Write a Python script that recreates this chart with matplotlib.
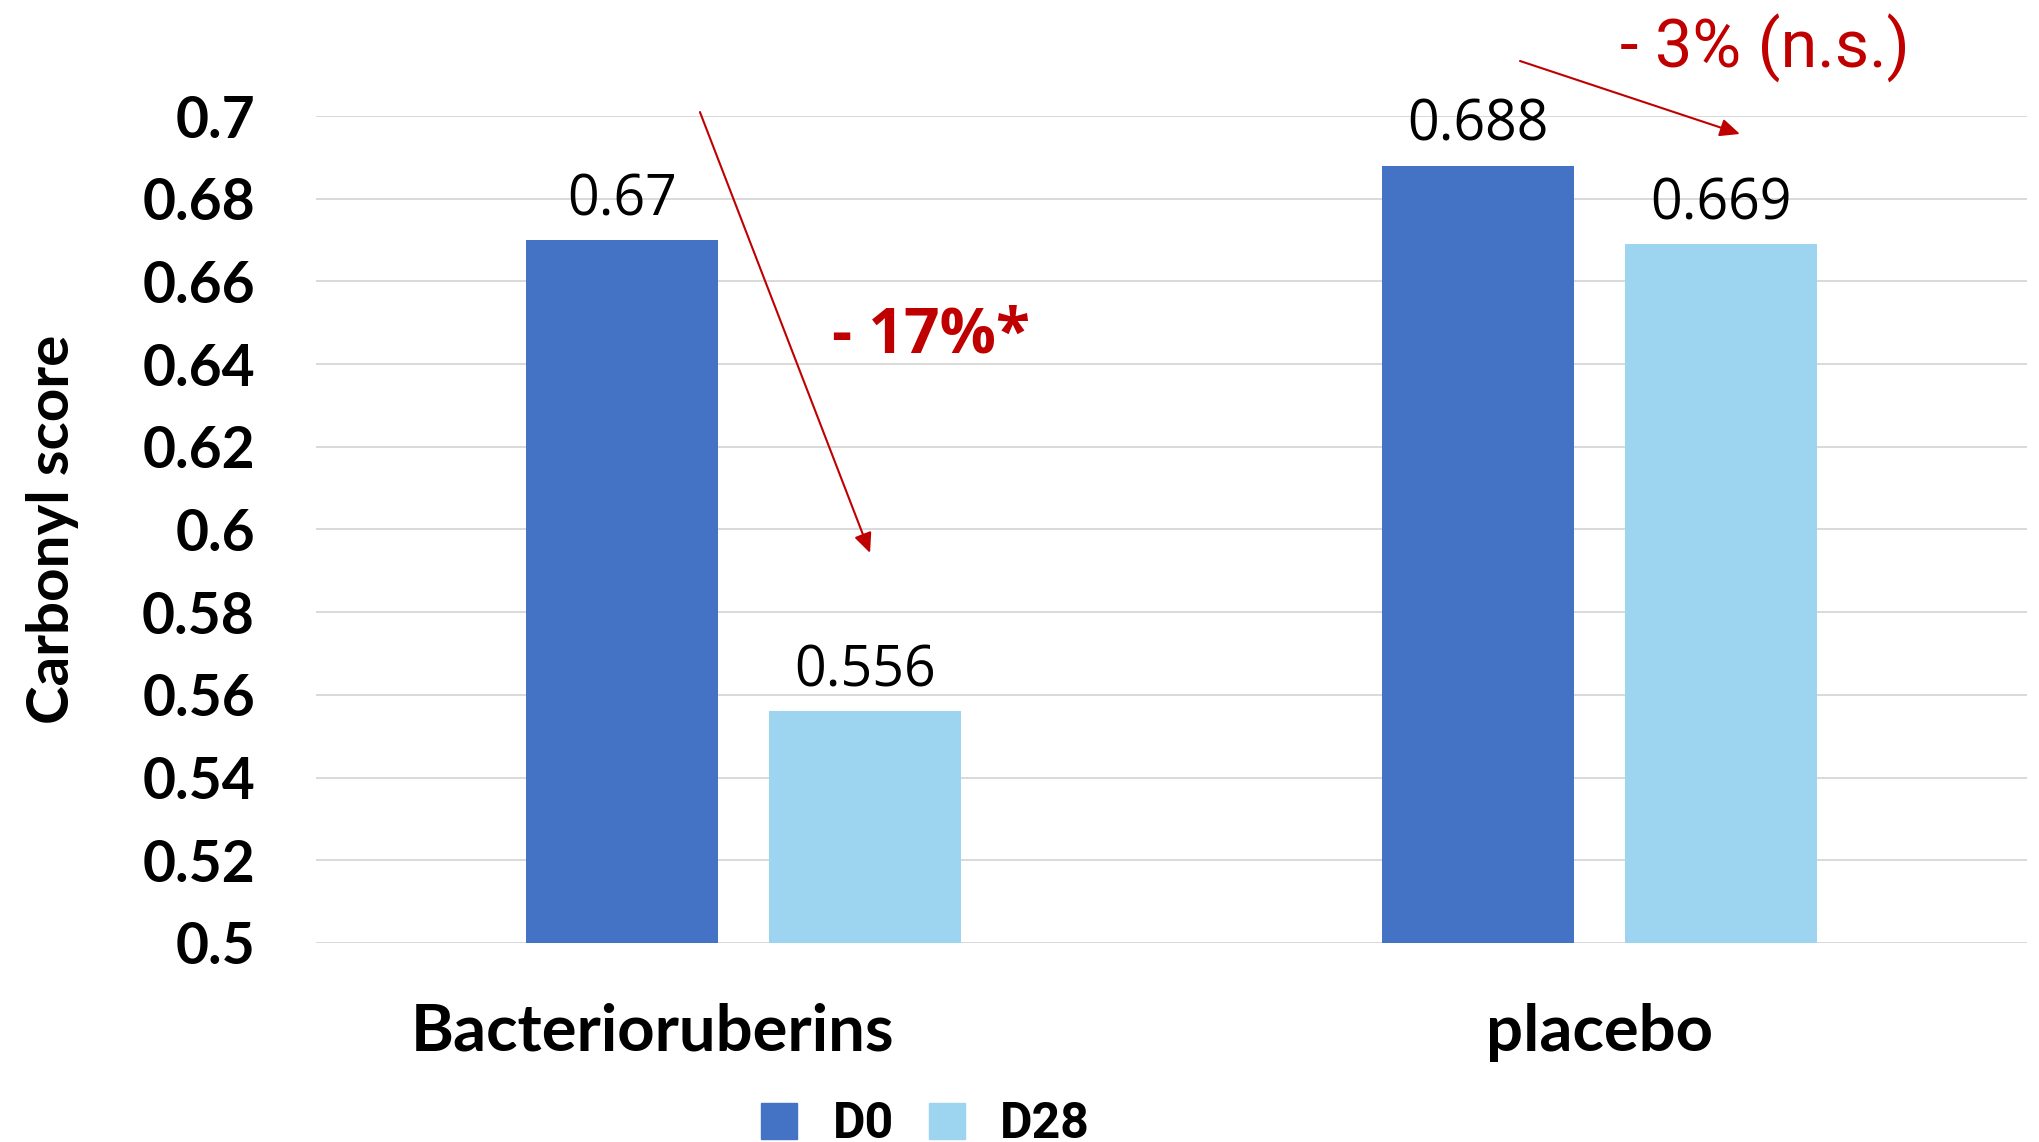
import numpy as np
import matplotlib
matplotlib.use("Agg")
import matplotlib.pyplot as plt
from matplotlib.patches import Patch

# carbonyl score per group, day 0 vs day 28
groups = ["Bacterioruberins", "placebo"]
series_names = ["D0", "D28"]
d0_values = [0.67, 0.688]
d28_values = [0.556, 0.669]
y_ticks = [0.5, 0.52, 0.54, 0.56, 0.58, 0.6, 0.62, 0.64, 0.66, 0.68, 0.7]
change_labels = ["- 17%*", "- 3% (n.s.)"]

dark_blue = "#4472C4"
light_blue = "#9DD5F1"
red = "#C00000"

fig = plt.figure(figsize=(20.4, 11.42), dpi=100)
ax = fig.add_axes([0.1549, 0.1743, 0.8387, 0.7241])

x = np.arange(len(groups))
width = 0.2245
offset = 0.142

bars_d0 = ax.bar(x - offset, d0_values, width, color=dark_blue, zorder=3)
bars_d28 = ax.bar(x + offset, d28_values, width, color=light_blue, zorder=3)

# value labels above each bar
for bars, vals in [(bars_d0, d0_values), (bars_d28, d28_values)]:
    for b, v in zip(bars, vals):
        ax.annotate(f"{v:g}", (b.get_x() + b.get_width() / 2, v),
                    xytext=(0, 18), textcoords="offset points",
                    ha="center", va="baseline", fontsize=40,
                    family="Open Sans", color="black")

ax.set_xlim(-0.5, 1.5)
ax.set_ylim(0.5, 0.7)
ax.set_yticks(y_ticks)
ax.set_yticklabels([f"{t:g}" for t in y_ticks], fontsize=41,
                   fontweight="bold", family="Lato")
ax.tick_params(axis="y", length=0, pad=44)
ax.set_xticks([])
ax.grid(axis="y", color="#D9D9D9", linewidth=1.4)
ax.set_axisbelow(True)
for s in ax.spines.values():
    s.set_visible(False)

ax.set_ylabel("Carbonyl score", fontsize=42, fontweight="bold",
              family="Lato", va="center")
ax.yaxis.set_label_coords(-0.154, 0.5)

# group names under the axis
label_shift = [-0.107, 0.0]
trans = matplotlib.transforms.blended_transform_factory(ax.transData, ax.transAxes)
for xi, name, sh in zip(x, groups, label_shift):
    ax.text(xi + sh, -0.1306, name, transform=trans, ha="center",
            va="baseline", fontsize=47, fontweight="bold", family="Lato")

# change arrows and percentages
ax.annotate("", xy=(0.4265, 0.5158), xytext=(0.3431, 0.9019),
            xycoords="figure fraction", textcoords="figure fraction",
            arrowprops=dict(arrowstyle="-|>,head_length=1.0,head_width=0.45",
                            mutation_scale=12, lw=1.5, color=red,
                            shrinkA=0, shrinkB=0))
ax.annotate("", xy=(0.8529, 0.8827), xytext=(0.7451, 0.9466),
            xycoords="figure fraction", textcoords="figure fraction",
            arrowprops=dict(arrowstyle="-|>,head_length=1.0,head_width=0.45",
                            mutation_scale=12, lw=1.5, color=red,
                            shrinkA=0, shrinkB=0))
fig.text(0.4078, 0.6909, change_labels[0], color=red, fontsize=45,
         fontweight="bold", family="Open Sans", ha="left", va="baseline")
fig.text(0.7941, 0.9405, change_labels[1], color=red, fontsize=48,
         family="Roboto", ha="left", va="baseline")

handles = [Patch(color=dark_blue), Patch(color=light_blue)]
fig.legend(handles, series_names, loc="center", ncol=2,
           bbox_to_anchor=(0.4537, 0.0149), frameon=False,
           prop=dict(family="Roboto", weight="bold", size=36),
           handlelength=0.72, handleheight=0.72, handletextpad=0.7,
           columnspacing=0.7, borderpad=0, borderaxespad=0)

fig.savefig("out.png", dpi=100)
